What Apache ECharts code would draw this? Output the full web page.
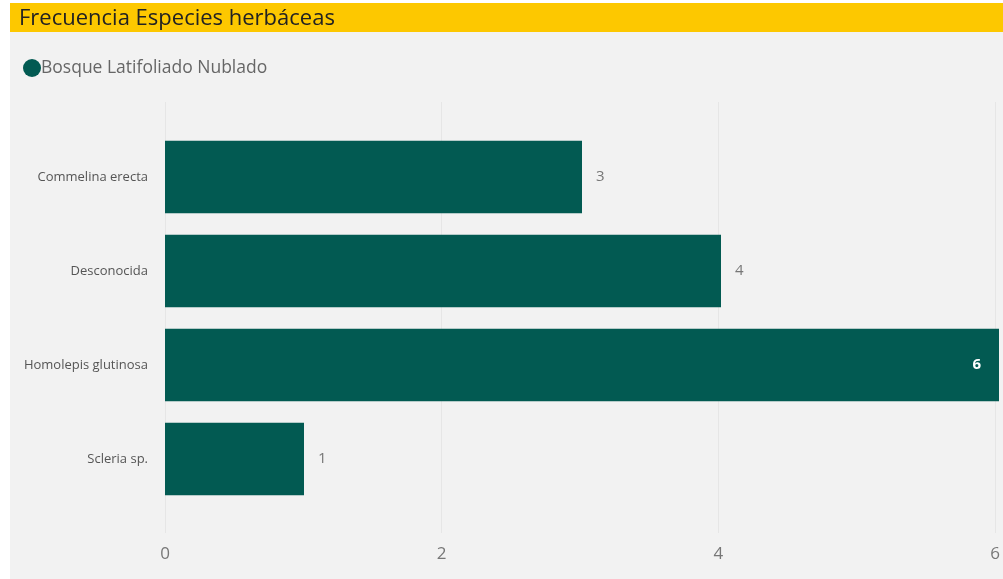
<!DOCTYPE html>
<html><head><meta charset="utf-8">
<script src="https://cdn.jsdelivr.net/npm/echarts@6/dist/echarts.min.js"></script>
<style>html,body{margin:0;padding:0;background:#fff}#c{width:1003px;height:579px}</style>
</head><body><div id="c"></div>
<script>
const categories = ["Commelina erecta", "Desconocida", "Homolepis glutinosa", "Scleria sp."];
const values = [3, 4, 6, 1];
const tickMax = 6;
const seriesName = "Bosque Latifoliado Nublado";
const titleText = "Frecuencia Especies herbáceas";

const chart = echarts.init(document.getElementById('c'));
const font = "'Open Sans', 'Noto Sans', sans-serif";
chart.setOption({
  animation: false,
  backgroundColor: '#ffffff',
  graphic: [
    {type:'rect', shape:{x:10,y:3,width:993,height:576}, style:{fill:'#f2f2f2'}, z:-10, silent:true},
    {type:'rect', shape:{x:10,y:3,width:993,height:29}, style:{fill:'#fdc800'}, z:-9, silent:true}
  ],
  title: {text: titleText, left: 14, top: 8, padding: [0,0,0,5],
    textStyle:{fontFamily:font, fontSize:22, fontWeight:'normal', color:'#222', lineHeight:22}},
  legend: {left: 18, top: 54, icon:'circle', itemWidth:18, itemHeight:18, itemGap:2,
    textStyle:{fontFamily:font, fontSize:17.5, color:'#666', padding:[0,0,0,-5]},
    data:[seriesName]},
  grid: [
    {left:165, right:4, top:130, bottom:73, containLabel:false},
    {left:165, right:4, top:102, bottom:46, containLabel:false}
  ],
  xAxis: [
    {gridIndex:0, type:'value', min:0, max:tickMax, interval:2, show:false},
    {gridIndex:1, type:'value', min:0, max:tickMax, interval:2,
      axisLine:{show:false}, axisTick:{show:false},
      splitLine:{show:true, lineStyle:{color:'#e6e6e6', width:1}},
      axisLabel:{fontFamily:font, fontSize:17, color:'#777', margin:13,
        formatter: v => v}}
  ],
  yAxis: [
    {gridIndex:0, type:'category', data:categories, inverse:true,
      axisLine:{show:false}, axisTick:{show:false},
      axisLabel:{fontFamily:font, fontSize:13, color:'#555', margin:17}},
    {gridIndex:1, type:'category', data:[''], show:false}
  ],
  series: [{
    name: seriesName, type:'bar', xAxisIndex:0, yAxisIndex:0,
    data: values.map(v => v === Math.max(...values) ?
      {value:v, label:{position:'insideRight', color:'#ffffff', fontWeight:'bold', offset:[-4,0]}} : v),
    barCategoryGap:'23%',
    itemStyle:{color:'#025a52'},
    label:{show:true, position:'right', distance:14, fontFamily:font, fontSize:15, color:'#777'}
  }]
});
</script></body></html>
